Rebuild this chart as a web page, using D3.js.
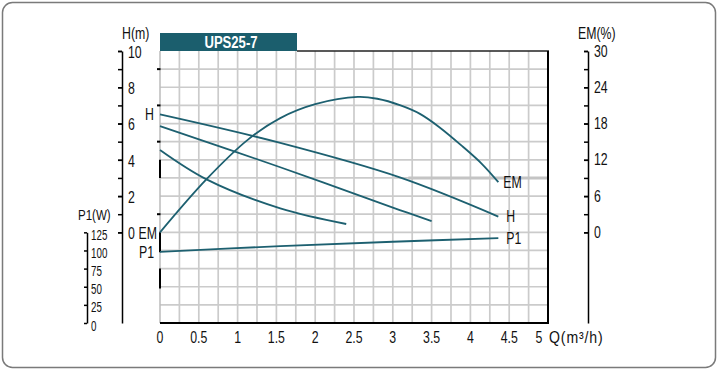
<!DOCTYPE html>
<html><head><meta charset="utf-8">
<script src="https://cdn.jsdelivr.net/npm/d3@7"></script>
<style>
html,body{margin:0;padding:0;background:#fff;}
svg text{font-family:"Liberation Sans",Arial,sans-serif;fill:#111;}
</style></head>
<body><svg id="c" width="719" height="371"></svg>
<script>
// ---- data ----
const title = "UPS25-7";
const qTicks = [0,0.5,1,1.5,2,2.5,3,3.5,4,4.5,5];
const qTickLabels = ["0","0.5","1","1.5","2","2.5","3","3.5","4","4.5","5"];
const qAxisTitle = "Q(m³/h)";
const hTicks = [0,2,4,6,8,10];
const emTicks = [0,6,12,18,24,30];
const p1Ticks = [0,25,50,75,100,125];

// H curves (three speeds): [Q, H]
const hSpeed3 = [[0,6.5],[1.55,4.93],[3.09,3.03],[4.36,0.87]];
const hSpeed2 = [[0,5.86],[1.55,3.59],[3.09,1.23],[3.5,0.62]];
const hSpeed1 = [[0,4.54],[0.6,2.92],[1.55,1.32],[2.4,0.46]];
// efficiency EM (%)
const emCurve = [[0,0],[0.6,8.8],[1.13,15.3],[1.55,18.9],[2,21.2],[2.55,22.4],[2.8,22.1],[3.1,21.0],[3.35,19.6],[3.6,17.4],[3.9,14.2],[4.15,11.3],[4.36,8.3]];
// power P1 (W)
const p1Curve = [[0,98],[1.55,106],[3,112],[4.36,117]];

// ---- layout ----
const svg = d3.select("#c");
const L=160, R=548, T=51, B=323;
const x = d3.scaleLinear([0,5],[L,R]);
const yH = d3.scaleLinear([-5,10],[B,T]);
const yEM = d3.scaleLinear([-15,30],[B,T]);
const yP = d3.scaleLinear([0,125],[B,yH(0)]);
const teal = "#1d6070";
const FS = "16px";

// outer frame
svg.append("rect").attr("x",2.5).attr("y",2.5).attr("width",713).attr("height",365)
  .attr("rx",10).attr("fill","none").attr("stroke","#7a7a7a").attr("stroke-width",1.5);

// grid
const g = svg.append("g");
g.selectAll("line.v").data(d3.range(1,20).map(i=>i*0.25)).join("line")
  .attr("x1",d=>x(d)).attr("x2",d=>x(d)).attr("y1",T).attr("y2",B)
  .attr("stroke","#cbcbcb").attr("stroke-width",1.7);
g.selectAll("line.h").data(d3.range(-4,10)).join("line")
  .attr("x1",L).attr("x2",R).attr("y1",d=>yH(d)).attr("y2",d=>yH(d))
  .attr("stroke","#cbcbcb").attr("stroke-width",1.7);
g.append("line").attr("x1",x(3.2)).attr("x2",R).attr("y1",yH(3)).attr("y2",yH(3))
  .attr("stroke","#c4c4c4").attr("stroke-width",3);

// frame of plot
svg.append("line").attr("x1",L).attr("x2",L).attr("y1",T).attr("y2",B).attr("stroke","#bbb").attr("stroke-width",1.5);
[[4,3],[0,-1.1],[-2,-3.1]].forEach(s=>{
  svg.append("line").attr("x1",L).attr("x2",L).attr("y1",yH(s[0])).attr("y2",yH(s[1])).attr("stroke","#000").attr("stroke-width",2);
});
[9,7,5,1].forEach(v=>{
  svg.append("line").attr("x1",L-3).attr("x2",L+0.5).attr("y1",yH(v)).attr("y2",yH(v)).attr("stroke","#000").attr("stroke-width",2);
});
svg.append("line").attr("x1",297).attr("x2",R+1).attr("y1",T).attr("y2",T).attr("stroke","#222").attr("stroke-width",1.5);
svg.append("line").attr("x1",R).attr("x2",R).attr("y1",T).attr("y2",B+1).attr("stroke","#000").attr("stroke-width",2);
svg.append("line").attr("x1",L).attr("x2",R+1).attr("y1",B).attr("y2",B).attr("stroke","#000").attr("stroke-width",2);

// title box
svg.append("rect").attr("x",L).attr("y",33).attr("width",137).attr("height",18).attr("fill","#1b5e6d");
svg.append("text").attr("x",L+71).attr("y",48).attr("text-anchor","middle").attr("data-s",0.77)
  .style("fill","#fff").style("font-weight","bold").style("font-size","17px").text(title);

// x axis labels
svg.selectAll("text.q").data(qTicks).join("text")
  .attr("x",(d,i)=> i===qTicks.length-1 ? x(d)-9 : x(d))
  .attr("y",343).attr("text-anchor","middle")
  .style("font-size",FS).text((d,i)=>qTickLabels[i]);
svg.append("text").attr("x",x(5)+1).attr("y",343).attr("data-s",0.88)
  .style("letter-spacing","1px").style("font-size",FS).text(qAxisTitle);

// H axis
const hAxX = 122;
svg.append("g").attr("transform",`translate(${hAxX},0)`)
  .call(d3.axisRight(yH).tickValues(d3.range(0,11)).tickSizeInner(-4).tickSizeOuter(0).tickPadding(0).tickFormat(""))
  .call(a=>a.selectAll("line,path").attr("stroke","#000").attr("stroke-width",1.5));
svg.append("g").attr("transform",`translate(${hAxX},0)`)
  .call(d3.axisRight(yH).tickValues(hTicks).tickSizeInner(-4).tickSizeOuter(0).tickPadding(6))
  .call(a=>a.select("path").remove())
  .call(a=>a.selectAll("line").attr("stroke","#000").attr("stroke-width",1.5))
  .call(a=>a.selectAll("text").attr("font-family",null).attr("dy","0.4em").style("font-size",FS).attr("fill","#111"));
svg.append("text").attr("x",hAxX).attr("y",39).style("font-size",FS).text("H(m)");

// EM axis (right)
const emAxX = 588;
svg.append("g").attr("transform",`translate(${emAxX},0)`)
  .call(d3.axisRight(yEM).tickValues(d3.range(0,31,3)).tickSizeInner(-4).tickSizeOuter(0).tickPadding(0).tickFormat(""))
  .call(a=>a.selectAll("line,path").attr("stroke","#000").attr("stroke-width",1.5));
svg.append("g").attr("transform",`translate(${emAxX},0)`)
  .call(d3.axisRight(yEM).tickValues(emTicks).tickSizeInner(-4).tickSizeOuter(0).tickPadding(6))
  .call(a=>a.select("path").remove())
  .call(a=>a.selectAll("line").attr("stroke","#000").attr("stroke-width",1.5))
  .call(a=>a.selectAll("text").attr("font-family",null).style("font-size",FS).attr("fill","#111"));
svg.append("text").attr("x",578).attr("y",39).style("font-size",FS).text("EM(%)");

// P1 axis
const pAxX = 87;
svg.append("g").attr("transform",`translate(${pAxX},0)`)
  .call(d3.axisRight(yP).tickValues(p1Ticks).tickSizeInner(-3).tickSizeOuter(0).tickPadding(4))
  .call(a=>a.selectAll("line,path").attr("stroke","#000").attr("stroke-width",1.5))
  .call(a=>a.selectAll("text").attr("font-family",null).attr("dy","0.5em").attr("data-s",0.7).style("font-size","14px").attr("fill","#111"));
svg.append("text").attr("x",78).attr("y",220).style("font-size","15px").text("P1(W)");

// curves
const cv = d3.curveCatmullRom.alpha(0.5);
const lineH = d3.line().x(d=>x(d[0])).y(d=>yH(d[1])).curve(cv);
const lineEM = d3.line().x(d=>x(d[0])).y(d=>yEM(d[1])).curve(cv);
const lineP = d3.line().x(d=>x(d[0])).y(d=>yP(d[1])).curve(cv);
[hSpeed3,hSpeed2,hSpeed1].forEach(s=>{
  svg.append("path").attr("d",lineH(s)).attr("fill","none").attr("stroke",teal).attr("stroke-width",1.8);
});
svg.append("path").attr("d",lineEM(emCurve)).attr("fill","none").attr("stroke",teal).attr("stroke-width",1.8);
svg.append("path").attr("d",lineP(p1Curve)).attr("fill","none").attr("stroke",teal).attr("stroke-width",1.8);

// curve labels
const lab = (tx,ty,t,anchor)=>svg.append("text").attr("x",tx).attr("y",ty).attr("dy","0.35em")
  .attr("text-anchor",anchor).style("font-size",FS).text(t);
lab(154, yH(hSpeed3[0][1]), "H", "end");
lab(157, yEM(0)+1, "EM", "end");
lab(154, yP(p1Curve[0][1]), "P1", "end");
const e3 = hSpeed3[hSpeed3.length-1], eE = emCurve[emCurve.length-1], eP = p1Curve[p1Curve.length-1];
lab(x(eE[0])+5, yEM(eE[1]), "EM", "start");
lab(x(e3[0])+8, yH(e3[1]), "H", "start");
lab(x(eP[0])+8, yP(eP[1]), "P1", "start");

// condense all text horizontally (narrow face look)
svg.selectAll("text").each(function(){
  const t = d3.select(this);
  const s = +(t.attr("data-s") || 0.77);
  const x0 = +(t.attr("x") || 0);
  t.attr("transform",`translate(${x0},0) scale(${s},1) translate(${-x0},0)`);
});
</script></body></html>
